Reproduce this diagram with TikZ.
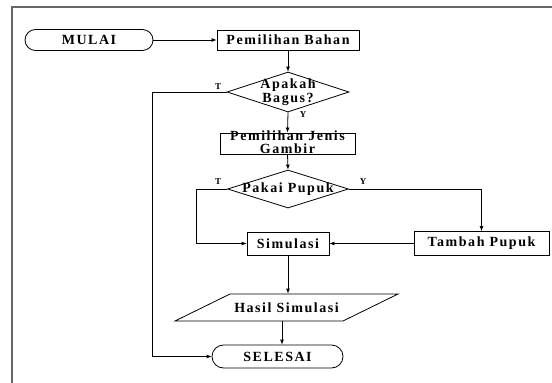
\documentclass[tikz,border=0pt]{standalone}
\usepackage{fontspec}
\setmainfont{Liberation Serif}[LetterSpace=11]
\usetikzlibrary{shapes.geometric,shapes.misc,arrows.meta,calc}
\begin{document}
\begin{tikzpicture}[x=1pt,y=-1pt,
  line width=0.8pt,
  font=\fontsize{14}{14}\selectfont\bfseries,
  term/.style={draw, rounded rectangle, inner sep=0},
  proc/.style={draw, rectangle, inner sep=0},
  dec/.style={draw, diamond, inner sep=0, aspect=3},
  intext/.style={align=center, inner sep=0, font=\fontsize{14}{13.5}\selectfont\bfseries},
  yn/.style={inner sep=0, font=\fontsize{9}{9}\selectfont\bfseries},
  arr/.style={-{Latex[length=5pt,width=4pt]}}
]
\useasboundingbox (0,0) rectangle (552,383);
\draw[draw=black!60, line width=1.2pt] (12,383) -- (12,7) -- (552,7);

\node[term, minimum width=128, minimum height=21] (mulai) at (89,40) {MULAI};
\node[proc, minimum width=142, minimum height=20] (bahan) at (288,40) {Pemilihan Bahan};
\node[dec, minimum width=122, minimum height=40, label={[intext]center:{Apakah\\Bagus?}}] (bagus) at (288,92) {};
\node[proc, minimum width=135, minimum height=21, label={[intext, yshift=1.5pt]center:{Pemilihan Jenis\\Gambir}}] (jenis) at (287.5,143.5) {};
\node[dec, minimum width=121, minimum height=38, label={[intext]center:{Pakai Pupuk}}] (pupuk) at (288,189) {};
\node[proc, minimum width=82, minimum height=23] (sim) at (288,243.5) {Simulasi};
\node[proc, minimum width=135, minimum height=24] (tambah) at (481.5,243.5) {Tambah Pupuk};
\node[inner sep=0, minimum width=113, minimum height=27] (hasil) at (286.5,307.5) {Hasil Simulasi};
\draw ($(hasil.center)+(-56.5,-13.5)$) -- ++(168,0) -- ++(-55,27) -- ++(-168,0) -- cycle;
\node[term, minimum width=131, minimum height=23] (selesai) at (277.5,356.5) {SELESAI};

\node[yn] (t1) at (218,87) {T};
\node[yn] (y1) at (303,115) {Y};
\node[yn] (t2) at (218,182) {T};
\node[yn] (y2) at (363,182) {Y};

\draw[arr] (mulai.east) -- (bahan.west);
\draw[arr] (bahan.south) -- (bagus.north);
\draw[arr] (bagus.south) -- (jenis.north);
\draw[arr] (jenis.south) -- (pupuk.north);
\draw[arr] (pupuk.west) -- ++(-31,0) |- (sim.west);
\draw[arr] (pupuk.east) -| (tambah.north);
\draw[arr] (tambah.west) -- (sim.east);
\draw[arr] (sim.south) -- (sim.south |- hasil.north);
\draw[arr] ([xshift=-4.5pt]hasil.south) -- ([xshift=-4.5pt]hasil.south |- selesai.north);
\draw[arr] (bagus.west) -- ++(-74,0) |- (selesai.west);
\end{tikzpicture}
\end{document}
